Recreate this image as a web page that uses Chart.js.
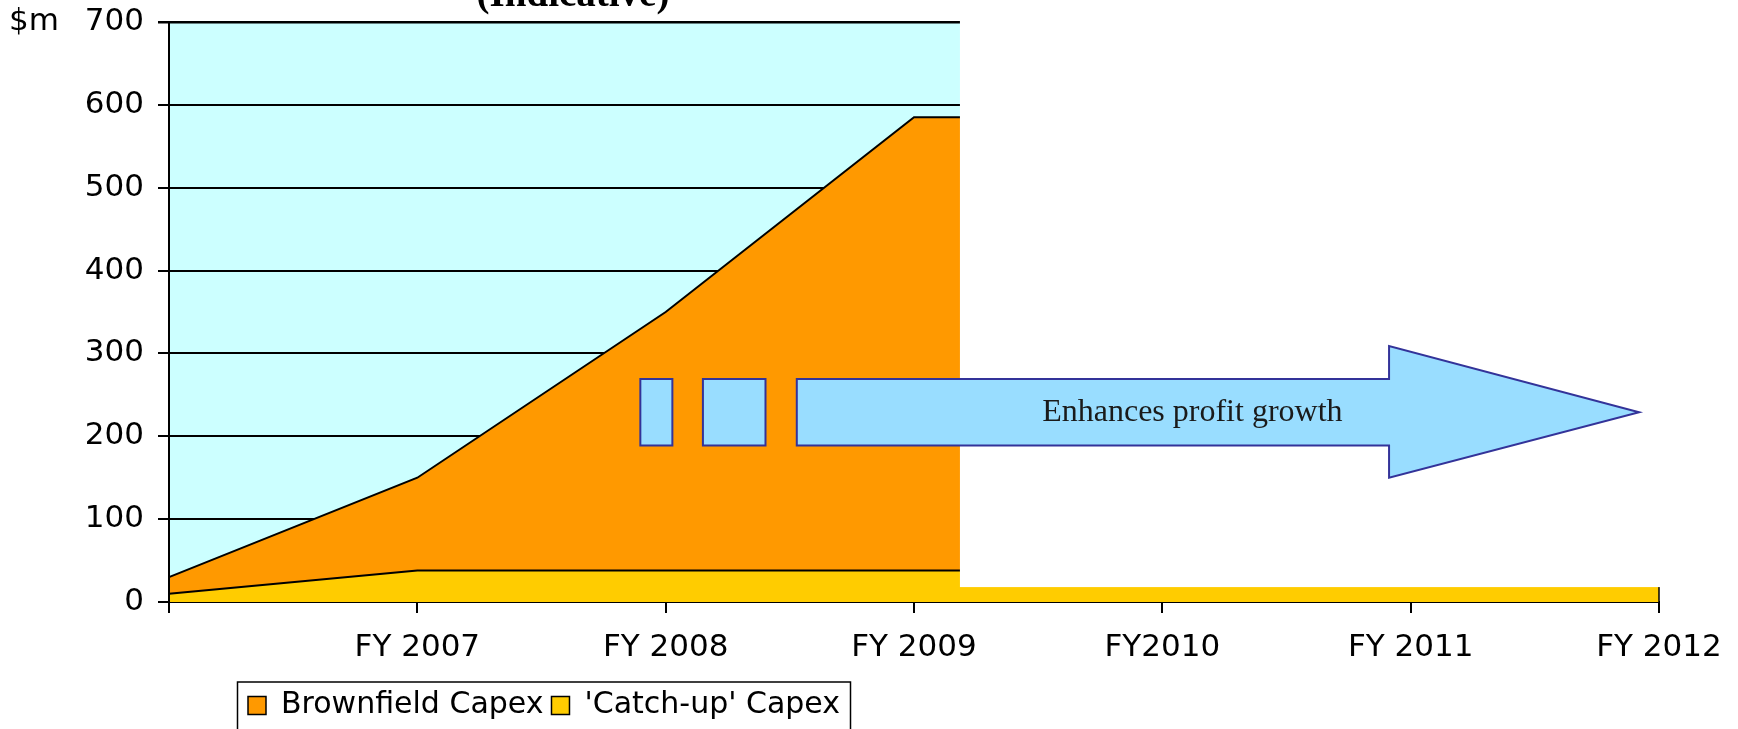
<!DOCTYPE html>
<html>
<head>
<meta charset="utf-8">
<script src="https://cdn.jsdelivr.net/npm/chart.js@4.4.1/dist/chart.umd.min.js"></script>
<style>
  html, body { margin: 0; padding: 0; background: #ffffff; overflow: hidden; }
  #wrap { position: relative; width: 1738px; height: 729px; }
  canvas { display: block; }
</style>
</head>
<body>
<div id="wrap"><canvas id="capex" width="1738" height="729"></canvas></div>
<script>
// Financial years along the x axis (first point is the FY2006 base, unlabelled)
const categories = ['', 'FY 2007', 'FY 2008', 'FY 2009', 'FY2010', 'FY 2011', 'FY 2012'];

// Stacked capex, $m
const catchUpCapex    = [10, 38, 38, 38, 38, 38, 38];
const brownfieldCapex = [20, 112, 312, 547, 547, 547, 547];

const seriesNames = ["Brownfield Capex", "'Catch-up' Capex"];
const yTickValues = [0, 100, 200, 300, 400, 500, 600, 700];

const FONT_SANS = '"DejaVu Sans", Verdana, sans-serif';
const FONT_SERIF = '"Liberation Serif", "Times New Roman", serif';
const SANS_SIZE = 31;

// Overlay artwork, placed in axis units (x = category index, y = $m)
const overlay = {
  coverFromX: 3.185,      // everything right of this (above coverToY) is blanked out
  coverToY: 18,
  blocks: [[1.898, 2.027], [2.150, 2.402]],
  arrow: { x0: 2.528, neck: 4.913, tip: 5.920, bodyLo: 189, bodyHi: 269, headLo: 150, headHi: 309 },
  arrowText: { x: 4.121, y: 229, text: 'Enhances profit growth' }
};

const decor = {
  id: 'decor',
  beforeDraw(chart) {
    const { ctx, chartArea: a } = chart;
    ctx.save();
    ctx.fillStyle = '#CCFFFF';
    ctx.fillRect(a.left, a.top, a.right - a.left, a.bottom - a.top);
    ctx.restore();

    // place the legend under the left part of the plot
    const lg = chart.legend;
    if (lg) {
      lg.left = 240; lg.right = lg.left + lg.width;
      lg.top = 682.5; lg.bottom = lg.top + lg.height;
    }
  },
  afterDatasetsDraw(chart) {
    const { ctx, chartArea: a, scales: { x, y } } = chart;
    ctx.save();
    // plot frame: left axis and right edge
    ctx.strokeStyle = '#000';
    ctx.lineWidth = 2;
    ctx.beginPath();
    ctx.moveTo(a.left, a.top); ctx.lineTo(a.left, a.bottom + 11);
    ctx.stroke();
    ctx.lineWidth = 1.5;
    ctx.beginPath();
    ctx.moveTo(a.right, a.top); ctx.lineTo(a.right, a.bottom);
    ctx.stroke();

    // blank panel over the forecast years
    const cx = x.getPixelForValue(overlay.coverFromX);
    const cy = y.getPixelForValue(overlay.coverToY);
    ctx.fillStyle = '#ffffff';
    ctx.fillRect(cx, 0, chart.width - cx, cy);
    ctx.restore();
  },
  afterDraw(chart) {
    const { ctx, scales: { x, y } } = chart;
    const px = v => x.getPixelForValue(v);
    const py = v => y.getPixelForValue(v);
    const A = overlay.arrow;
    ctx.save();
    ctx.fillStyle = '#99DDFF';
    ctx.strokeStyle = '#333399';
    ctx.lineWidth = 2;
    ctx.lineJoin = 'miter';

    for (const [b0, b1] of overlay.blocks) {
      ctx.beginPath();
      ctx.rect(px(b0), py(A.bodyHi), px(b1) - px(b0), py(A.bodyLo) - py(A.bodyHi));
      ctx.fill(); ctx.stroke();
    }

    ctx.beginPath();
    ctx.moveTo(px(A.x0), py(A.bodyHi));
    ctx.lineTo(px(A.neck), py(A.bodyHi));
    ctx.lineTo(px(A.neck), py(A.headHi));
    ctx.lineTo(px(A.tip), py((A.bodyHi + A.bodyLo) / 2));
    ctx.lineTo(px(A.neck), py(A.headLo));
    ctx.lineTo(px(A.neck), py(A.bodyLo));
    ctx.lineTo(px(A.x0), py(A.bodyLo));
    ctx.closePath();
    ctx.fill(); ctx.stroke();

    ctx.fillStyle = '#1a1a1a';
    ctx.font = '32px ' + FONT_SERIF;
    ctx.textAlign = 'center';
    ctx.textBaseline = 'middle';
    ctx.fillText(overlay.arrowText.text, px(overlay.arrowText.x), py(overlay.arrowText.y));

    // heading (runs off the top edge)
    ctx.fillStyle = '#000';
    ctx.font = 'bold 39px ' + FONT_SERIF;
    ctx.textBaseline = 'alphabetic';
    ctx.fillText('(Indicative)', 573, 6);

    // unit label
    ctx.font = SANS_SIZE + 'px ' + FONT_SANS;
    ctx.textAlign = 'left';
    ctx.fillText('$m', 9, 30);

    // legend frame
    ctx.strokeStyle = '#000';
    ctx.lineWidth = 1.5;
    ctx.strokeRect(237.5, 682, 613, 80);
    ctx.restore();
  }
};

new Chart(document.getElementById('capex'), {
  type: 'line',
  data: {
    labels: categories,
    datasets: [
      {
        label: seriesNames[1],
        data: catchUpCapex,
        backgroundColor: '#FFCC00',
        borderColor: '#000000',
        borderWidth: 2,
        fill: 'origin',
        pointRadius: 0,
        tension: 0
      },
      {
        label: seriesNames[0],
        data: brownfieldCapex,
        backgroundColor: '#FF9900',
        borderColor: '#000000',
        borderWidth: 2,
        fill: '-1',
        pointRadius: 0,
        tension: 0
      }
    ]
  },
  options: {
    responsive: false,
    animation: false,
    devicePixelRatio: 1,
    layout: { padding: { top: 22, right: 79, left: 0, bottom: 0 } },
    plugins: {
      title: { display: false },
      tooltip: { enabled: false },
      legend: {
        display: true,
        position: 'bottom',
        align: 'start',
        reverse: true,
        labels: {
          color: '#000',
          font: { family: FONT_SANS, size: 30 },
          boxWidth: 18,
          boxHeight: 18,
          padding: 8,
          generateLabels(chart) {
            return Chart.defaults.plugins.legend.labels.generateLabels(chart).map(l => {
              l.lineWidth = 1.5;
              l.strokeStyle = '#000';
              return l;
            });
          }
        }
      }
    },
    scales: {
      x: {
        type: 'category',
        offset: false,
        z: 1,
        grid: {
          display: true,
          drawOnChartArea: false,
          drawTicks: true,
          tickLength: 11,
          color: '#000',
          lineWidth: 2
        },
        border: { display: true, color: '#000', width: 2 },
        ticks: {
          color: '#000',
          font: { family: FONT_SANS, size: SANS_SIZE },
          padding: 16,
          maxRotation: 0,
          autoSkip: false
        },
        afterFit(s) {
          const lh = s.chart.legend ? s.chart.legend.height : 0;
          s.height = s.chart.height - 602 - lh;
        }
      },
      y: {
        stacked: true,
        min: 0,
        max: 700,
        afterBuildTicks(s) { s.ticks = yTickValues.map(v => ({ value: v })); },
        grid: {
          color: '#000',
          lineWidth: ctx => (ctx.tick && ctx.tick.value === 700 ? 2.5 : 2),
          drawTicks: true,
          tickLength: 11
        },
        border: { display: false },
        ticks: {
          color: '#000',
          font: { family: FONT_SANS, size: SANS_SIZE },
          padding: 14
        },
        afterFit(s) {
          s.width = 169;
          s.paddingTop = 0;
          s.paddingBottom = 0;
        }
      }
    }
  },
  plugins: [decor]
});
</script>
</body>
</html>
